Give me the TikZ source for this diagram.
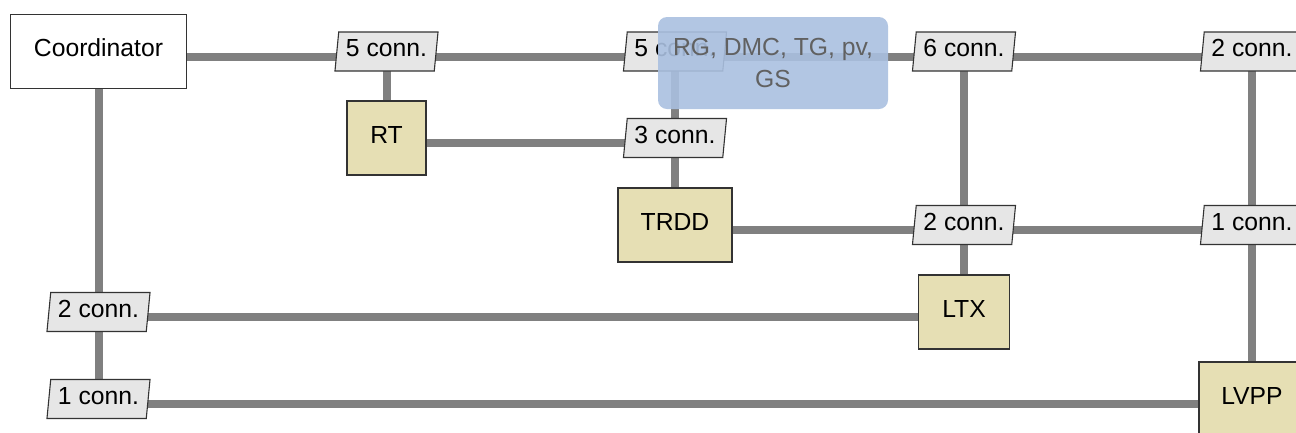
\documentclass[tikz,border=0pt]{standalone}
\usepackage{fontspec}
\setmainfont{Liberation Sans}
\usetikzlibrary{shapes.geometric,backgrounds}
\definecolor{wire}{RGB}{128,128,128}
\definecolor{edge}{RGB}{51,51,51}
\definecolor{tan}{RGB}{230,223,180}
\definecolor{pgram}{RGB}{230,230,230}
\definecolor{note}{RGB}{170,192,224}
\tikzset{
  base/.style={draw=edge, line width=1.1bp, inner sep=0pt, font=\fontsize{24.8}{32}\selectfont,
    text height=18bp, text depth=8bp},
  whitebox/.style={base, fill=white, rectangle},
  tanbox/.style={base, fill=tan, rectangle},
  pg/.style={base, fill=pgram, trapezium, trapezium left angle=83, trapezium right angle=97,
    trapezium stretches=true, minimum width=104bp, minimum height=39bp},
  wireline/.style={draw=wire, line width=8bp},
  notebox/.style={rounded corners=9bp, fill=note, fill opacity=0.9, text opacity=1, text=black!62,
    minimum width=230bp, minimum height=92bp, align=center, inner sep=0pt,
    font=\fontsize{24.8}{32}\selectfont}
}
\begin{document}
\begin{tikzpicture}[x=1bp,y=-1bp]
\useasboundingbox (0,0) rectangle (1296,432);
% nodes
\node[whitebox, minimum width=176bp, minimum height=74bp] (coord) at (98.5,51.5) {Coordinator};
\node[pg] (p1) at (386.5,51.5) {5 conn.};
\node[tanbox, minimum width=79bp, minimum height=74bp] (rt) at (386.5,138) {RT};
\node[pg] (p2) at (675,51.5) {5 conn.};
\node[pg] (p3) at (675,138) {3 conn.};
\node[tanbox, minimum width=114bp, minimum height=74bp] (trdd) at (675,225) {TRDD};
\node[pg] (p4) at (964,51.5) {6 conn.};
\node[pg] (p5) at (1252,51.5) {2 conn.};
\node[pg] (p6) at (964,225) {2 conn.};
\node[pg] (p7) at (1252,225) {1 conn.};
\node[tanbox, minimum width=91bp, minimum height=74bp] (ltx) at (964,312) {LTX};
\node[tanbox, minimum width=106bp, minimum height=74bp] (lvpp) at (1252,399) {LVPP};
\node[pg] (p8) at (98.5,312) {2 conn.};
\node[pg] (p9) at (98.5,399) {1 conn.};
% connectors
\begin{scope}[on background layer]
\draw[wireline] ([yshift=-5bp]coord.center) -- ([yshift=-5bp]p1.center);
\draw[wireline] ([yshift=-5bp]p1.center) -- ([yshift=-5bp]p2.center);
\draw[wireline] ([yshift=-5bp]p2.center) -- ([yshift=-5bp]p4.center);
\draw[wireline] ([yshift=-5bp]p4.center) -- ([yshift=-5bp]p5.center);
\draw[wireline] (p1.center) -- (rt.center);
\draw[wireline] ([yshift=-5bp]rt.center) -- ([yshift=-5bp]p3.center);
\draw[wireline] (p2.center) -- (p3.center);
\draw[wireline] (p3.center) -- (trdd.center);
\draw[wireline] ([yshift=-5bp]trdd.center) -- ([yshift=-5bp]p6.center);
\draw[wireline] ([yshift=-5bp]p6.center) -- ([yshift=-5bp]p7.center);
\draw[wireline] (p4.center) -- (p6.center);
\draw[wireline] (p6.center) -- (ltx.center);
\draw[wireline] (p5.center) -- (p7.center);
\draw[wireline] (p7.center) -- (lvpp.center);
\draw[wireline] (coord.center) -- (p8.center);
\draw[wireline] (p8.center) -- (p9.center);
\draw[wireline] ([yshift=-5bp]p8.center) -- ([yshift=-5bp]ltx.center);
\draw[wireline] ([yshift=-5bp]p9.center) -- ([yshift=-5bp]lvpp.center);
\end{scope}
% overlay note
\node[notebox] (note) at (773,63) {RG, DMC, TG, pv,\\GS};
\end{tikzpicture}
\end{document}
